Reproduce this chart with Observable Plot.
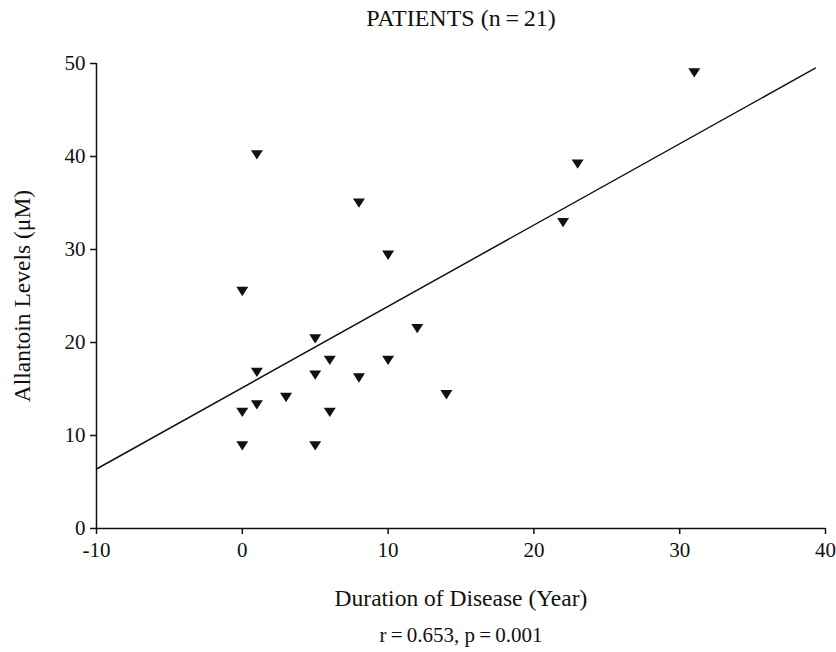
<!DOCTYPE html>
<html>
<head>
<meta charset="utf-8">
<script src="https://cdn.jsdelivr.net/npm/d3@7"></script>
<script src="https://cdn.jsdelivr.net/npm/@observablehq/plot@0.6"></script>
<style>
  html, body { margin: 0; padding: 0; background: #fff; }
</style>
</head>
<body>
<div id="chart"></div>
<script>
// Data
const duration = [0, 1, 8, 10, 5, 6, 10, 1, 5, 8, 3, 1, 0, 6, 0, 5, 31, 23, 22, 12, 14];
const allantoin = [25.5, 40.2, 35.0, 29.4, 20.4, 18.1, 18.1, 16.8, 16.5, 16.2, 14.1, 13.3, 12.5, 12.5, 8.9, 8.9, 49.0, 39.2, 32.9, 21.5, 14.4];
const fitX = [-10, 39.3];
const fitY = [6.4, 49.5];
const xTicks = [-10, 0, 10, 20, 30, 40];
const yTicks = [0, 10, 20, 30, 40, 50];
const titleText = "PATIENTS (n\u2009=\u200921)";
const xLabel = "Duration of Disease (Year)";
const yLabel = "Allantoin Levels (\u03bcM)";
const captionText = "r\u2009=\u20090.653, p\u2009=\u20090.001";

const points = duration.map((d, i) => ({x: d, y: allantoin[i]}));
const fit = fitX.map((d, i) => ({x: d, y: fitY[i]}));

const triangleDown = {
  draw(context, size) {
    const s = Math.sqrt(size / Math.PI);
    context.moveTo(-s, -0.75 * s);
    context.lineTo(s, -0.75 * s);
    context.lineTo(0, 0.8 * s);
    context.closePath();
  }
};

const font = "'Liberation Serif', 'DejaVu Serif', serif";

const chart = Plot.plot({
  width: 836,
  height: 652,
  marginLeft: 96,
  marginRight: 11,
  marginTop: 63,
  marginBottom: 124,
  style: {fontFamily: font, color: "#111", background: "#fff"},
  x: {domain: [-10, 40]},
  y: {domain: [0, 50]},
  marks: [
    Plot.axisX({ticks: xTicks, tickFormat: d => String(d), tickSize: 6, tickPadding: 8, fontSize: 21, label: null, strokeWidth: 1.5}),
    Plot.axisY({ticks: yTicks, tickFormat: d => String(d), tickSize: 6, tickPadding: 5, fontSize: 21, label: null, strokeWidth: 1.5}),
    Plot.ruleY([0], {x1: -10, x2: 40, stroke: "#111", strokeWidth: 1.5}),
    Plot.ruleX([-10], {y1: 0, y2: 50, stroke: "#111", strokeWidth: 1.5}),
    Plot.line(fit, {x: "x", y: "y", stroke: "#111", strokeWidth: 1.5}),
    Plot.dot(points, {x: "x", y: "y", r: 6, symbol: triangleDown, fill: "#111", stroke: "none"}),
    Plot.text([titleText], {frameAnchor: "top", dy: -45, lineAnchor: "middle", textAnchor: "middle", fontSize: 24, fill: "#111"}),
    Plot.text([xLabel], {frameAnchor: "bottom", dy: 70, lineAnchor: "middle", textAnchor: "middle", fontSize: 23.5, fill: "#111"}),
    Plot.text([captionText], {frameAnchor: "bottom", dy: 107, lineAnchor: "middle", textAnchor: "middle", fontSize: 21, fill: "#111"}),
    Plot.text([yLabel], {frameAnchor: "left", dx: -74, rotate: -90, lineAnchor: "middle", textAnchor: "middle", fontSize: 23.5, fill: "#111"})
  ]
});
document.getElementById("chart").appendChild(chart);
</script>
</body>
</html>
